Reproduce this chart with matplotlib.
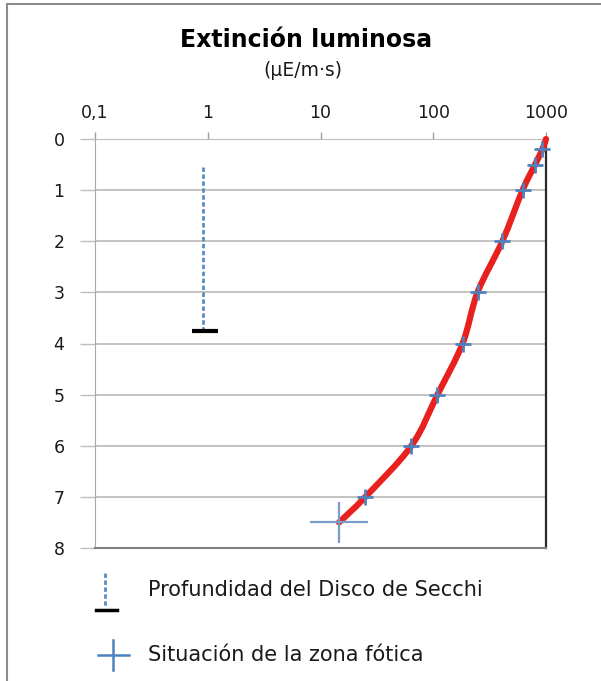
import numpy as np
import matplotlib
matplotlib.use("Agg")
import matplotlib.pyplot as plt
from matplotlib.path import Path
from matplotlib.patches import PathPatch
from matplotlib.lines import Line2D

# ---- data ----
depth = [0, 0.2, 0.5, 1, 2, 3, 4, 5, 6, 7, 7.5]          # m
light = [1000, 930, 800, 620, 410, 247, 182, 109, 64, 25, 14.6]  # µE/m·s

marker_depth = [0.2, 0.5, 1, 2, 3, 4, 5, 6, 7]
marker_light = [930, 800, 620, 410, 247, 182, 109, 64, 25]

photic_light = 14.6
photic_depth = 7.5
photic_xerr = [[6.55], [11.7]]
photic_yerr = 0.4

secchi_light = 0.9
secchi_top = 0.55
secchi_depth = 3.75

x_ticks = [0.1, 1, 10, 100, 1000]
x_labels = ["0,1", "1", "10", "100", "1000"]
y_ticks = list(range(0, 9))

title = "Extinción luminosa"
subtitle = "(µE/m·s)"
legend_labels = ["Profundidad del Disco de Secchi", "Situación de la zona fótica"]

# ---- styles ----
W, H = 601, 681
FONT = "DejaVu Sans"
BLUE = "#4F81BD"
RED = "#E8211F"
GRID = "#BEBEBE"
TXT = "#1A1A1A"

fig = plt.figure(figsize=(W / 100, H / 100), dpi=100)
fig.patch.set_facecolor("white")

def px(x0, y0, x1, y1):
    return [x0 / W, 1 - y1 / H, (x1 - x0) / W, (y1 - y0) / H]

ax = fig.add_axes(px(95, 139, 546, 548))
ax.set_xscale("log")
ax.set_xlim(0.1, 1000)
ax.set_ylim(8, 0)
ax.minorticks_off()

ax.set_xticks(x_ticks)
ax.set_xticklabels(x_labels)
ax.set_yticks(y_ticks)
ax.xaxis.tick_top()
ax.tick_params(axis="x", which="major", direction="out", length=5, width=1,
               color="#A0A0A0", pad=7, labelsize=12.5, labelcolor=TXT)
ax.tick_params(axis="y", which="major", direction="out", length=11, width=1,
               color=GRID, pad=11, labelsize=12.5, labelcolor=TXT)
for lab in ax.get_xticklabels() + ax.get_yticklabels():
    lab.set_fontfamily(FONT)

ax.yaxis.grid(True, color=GRID, linewidth=1.3)
ax.xaxis.grid(False)
ax.set_axisbelow(True)

ax.spines["top"].set_color(GRID)
ax.spines["left"].set_color("#A8A8A8")
ax.spines["bottom"].set_color("#808080")
ax.spines["bottom"].set_linewidth(1.5)
ax.spines["right"].set_color("#2A2A2A")
ax.spines["right"].set_linewidth(1.6)

# smooth red profile: Catmull-Rom segments built in log-x space
lx = np.log10(light)
yy = np.array(depth, dtype=float)
pts = np.column_stack([lx, yy])
verts = [pts[0]]
codes = [Path.MOVETO]
n = len(pts)
for i in range(n - 1):
    p0 = pts[i - 1] if i > 0 else pts[i]
    p1 = pts[i]
    p2 = pts[i + 1]
    p3 = pts[i + 2] if i + 2 < n else pts[i + 1]
    c1 = p1 + (p2 - p0) / 6.0
    c2 = p2 - (p3 - p1) / 6.0
    verts += [c1, c2, p2]
    codes += [Path.CURVE4] * 3
verts = np.array(verts)
verts[:, 0] = 10 ** verts[:, 0]
curve = PathPatch(Path(verts, codes), facecolor="none", edgecolor=RED,
                  linewidth=4.5, capstyle="round", joinstyle="round", zorder=3,
                  clip_on=False)
ax.add_patch(curve)

# point markers along the profile
ax.plot(marker_light, marker_depth, linestyle="none", marker="+", markersize=11,
        markeredgewidth=2, color=BLUE, zorder=4, clip_on=False)

# photic zone cross
ax.errorbar([photic_light], [photic_depth], xerr=photic_xerr, yerr=photic_yerr,
            fmt="none", ecolor="#7A9CCB", elinewidth=1.6, capsize=0, zorder=4)

# Secchi disk depth
ax.plot([secchi_light, secchi_light], [secchi_top, secchi_depth], color="#5B8AC6",
        linewidth=2, linestyle=(0, (1.6, 0.9)), zorder=3)
ax.plot([secchi_light * 1.05], [secchi_depth], marker="_", markersize=19,
        markeredgewidth=3, color="black", zorder=4)

# titles
fig.text(306 / W, 1 - 40 / H, title, ha="center", va="center", fontsize=17,
         fontweight="bold", fontfamily=FONT, color="black")
fig.text(303 / W, 1 - 71 / H, subtitle, ha="center", va="center", fontsize=13.5,
         fontfamily=FONT, color=TXT)

# legend block
lg = fig.add_axes([0, 0, 1, 1], zorder=5)
lg.set_xlim(0, W)
lg.set_ylim(H, 0)
lg.axis("off")
lg.patch.set_alpha(0)
lg.add_line(Line2D([105, 105], [573, 606], color="#5B8AC6", linewidth=2,
                   linestyle=(0, (1.6, 0.9))))
lg.add_line(Line2D([96, 117], [610, 610], color="black", linewidth=2.5))
lg.add_line(Line2D([98, 129], [655, 655], color=BLUE, linewidth=1.8))
lg.add_line(Line2D([113, 113], [640, 670], color=BLUE, linewidth=1.8))
lg.text(148, 590, legend_labels[0], ha="left", va="center", fontsize=15,
        fontfamily=FONT, color=TXT)
lg.text(148, 655, legend_labels[1], ha="left", va="center", fontsize=15,
        fontfamily=FONT, color=TXT)

# outer frame (left and top edges)
lg.add_line(Line2D([7, 7], [4, H], color="#8C8C8C", linewidth=1.5))
lg.add_line(Line2D([7, W], [4, 4], color="#8C8C8C", linewidth=1.5))

fig.savefig("out.png", dpi=100, facecolor="white")
